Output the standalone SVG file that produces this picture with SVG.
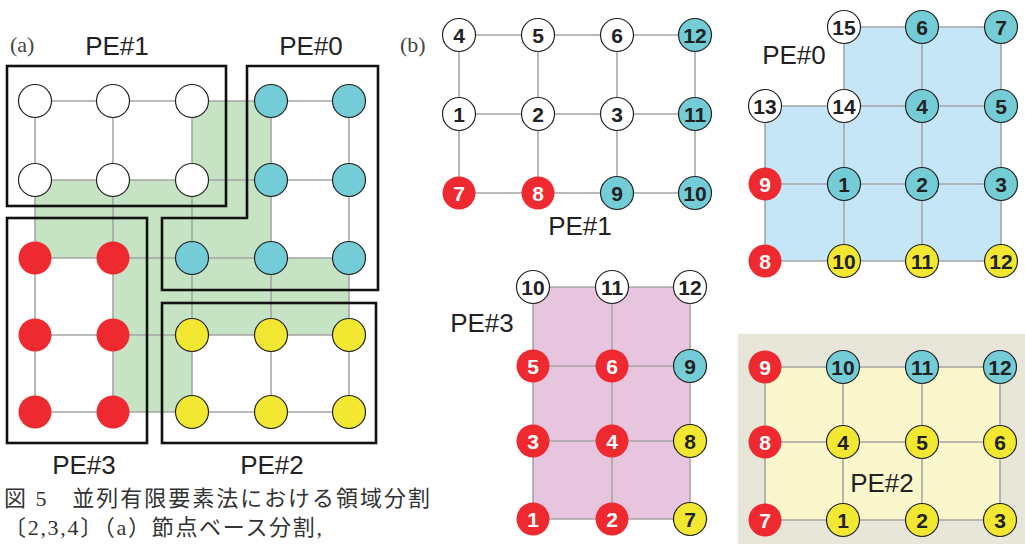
<svg xmlns="http://www.w3.org/2000/svg" width="1025" height="544" viewBox="0 0 1025 544">
<style>
.g line{stroke:#a5a5a5;stroke-width:1.6}
.box{fill:none;stroke:#111;stroke-width:2.6}
.w{fill:#fff;stroke:#222;stroke-width:1.2}
.c{fill:#74ccd7;stroke:#222;stroke-width:1.2}
.y{fill:#f2e832;stroke:#222;stroke-width:1.2}
.r{fill:#ee2a30}
.n{font-family:"Liberation Sans",Arial,sans-serif;font-weight:bold;font-size:21px;text-anchor:middle;fill:#222}
.r + .n{fill:#fff}
.pe{font-family:"Liberation Sans",Arial,sans-serif;font-size:26px;text-anchor:middle;fill:#222}
.lab{font-family:"Liberation Serif","Times New Roman",serif;font-size:22px;fill:#444}
.cap{font-family:"Liberation Serif","Noto Sans CJK JP",serif;font-size:22px;fill:#333}
</style>
<rect width="1025" height="544" fill="#fff"/>
<!-- region fills -->
<g id="fills">
<polygon points="192,101 271,101 271,258 349,258 349,335 192,335 192,412 113,412 113,258 35,258 35,180 192,180" fill="#c6e3c4"/>
<polygon points="844,27 1001,27 1001,261 765,261 765,106 844,106" fill="#c4e6f7"/>
<rect x="533" y="287" width="157" height="232" fill="#e8c5df"/>
<rect x="738" y="334" width="287" height="210" fill="#e8e5d9"/>
<rect x="765" y="367" width="235" height="153" fill="#faf7cc"/>
</g>
<!-- connectors -->
<g id="connectors" class="g">
<!-- (a) grid -->
<line x1="35" y1="101" x2="349" y2="101"/><line x1="35" y1="180" x2="349" y2="180"/><line x1="35" y1="258" x2="349" y2="258"/><line x1="35" y1="335" x2="349" y2="335"/><line x1="35" y1="412" x2="349" y2="412"/>
<line x1="35" y1="101" x2="35" y2="412"/><line x1="113" y1="101" x2="113" y2="412"/><line x1="192" y1="101" x2="192" y2="412"/><line x1="271" y1="101" x2="271" y2="412"/><line x1="349" y1="101" x2="349" y2="412"/>
<!-- (b) PE#1 -->
<line x1="459" y1="35" x2="695" y2="35"/><line x1="459" y1="114" x2="695" y2="114"/><line x1="459" y1="193" x2="695" y2="193"/>
<line x1="459" y1="35" x2="459" y2="193"/><line x1="538" y1="35" x2="538" y2="193"/><line x1="617" y1="35" x2="617" y2="193"/><line x1="695" y1="35" x2="695" y2="193"/>
<!-- (b) PE#0 -->
<line x1="844" y1="27" x2="1001" y2="27"/><line x1="765" y1="106" x2="1001" y2="106"/><line x1="765" y1="184" x2="1001" y2="184"/><line x1="765" y1="261" x2="1001" y2="261"/>
<line x1="765" y1="106" x2="765" y2="261"/><line x1="844" y1="27" x2="844" y2="261"/><line x1="922" y1="27" x2="922" y2="261"/><line x1="1001" y1="27" x2="1001" y2="261"/>
<!-- (b) PE#3 -->
<line x1="533" y1="287" x2="690" y2="287"/><line x1="533" y1="366" x2="690" y2="366"/><line x1="533" y1="441" x2="690" y2="441"/><line x1="533" y1="519" x2="690" y2="519"/>
<line x1="533" y1="287" x2="533" y2="519"/><line x1="612" y1="287" x2="612" y2="519"/><line x1="690" y1="287" x2="690" y2="519"/>
<!-- (b) PE#2 -->
<line x1="765" y1="367" x2="1000" y2="367"/><line x1="765" y1="442" x2="1000" y2="442"/><line x1="765" y1="520" x2="1000" y2="520"/>
<line x1="765" y1="367" x2="765" y2="520"/><line x1="843" y1="367" x2="843" y2="520"/><line x1="922" y1="367" x2="922" y2="520"/><line x1="1000" y1="367" x2="1000" y2="520"/>
</g>
<!-- (a) partition boxes -->
<g id="partitions-a">
<rect class="box" x="7" y="66" width="219" height="140"/>
<polygon class="box" points="247,66 378,66 378,290 162,290 162,218 247,218"/>
<rect class="box" x="7" y="218" width="140" height="225"/>
<rect class="box" x="162" y="303" width="214" height="140"/>
</g>
<!-- labels -->
<g id="labels">
<text class="lab" x="10" y="52">(a)</text>
<text class="lab" x="400" y="52">(b)</text>
<text class="pe" x="117" y="55">PE#1</text>
<text class="pe" x="311" y="55">PE#0</text>
<text class="pe" x="84" y="474">PE#3</text>
<text class="pe" x="272" y="474">PE#2</text>
<text class="pe" x="580" y="235">PE#1</text>
<text class="pe" x="794" y="64">PE#0</text>
<text class="pe" x="482" y="332">PE#3</text>
<text class="pe" x="882" y="492">PE#2</text>
</g>
<!-- (a) nodes -->
<g id="nodes-a">
<g id="a-0-0"><circle class="w" cx="35" cy="101" r="16.5"/></g>
<g id="a-1-0"><circle class="w" cx="113" cy="101" r="16.5"/></g>
<g id="a-2-0"><circle class="w" cx="192" cy="101" r="16.5"/></g>
<g id="a-3-0"><circle class="c" cx="271" cy="101" r="16.5"/></g>
<g id="a-4-0"><circle class="c" cx="349" cy="101" r="16.5"/></g>
<g id="a-0-1"><circle class="w" cx="35" cy="180" r="16.5"/></g>
<g id="a-1-1"><circle class="w" cx="113" cy="180" r="16.5"/></g>
<g id="a-2-1"><circle class="w" cx="192" cy="180" r="16.5"/></g>
<g id="a-3-1"><circle class="c" cx="271" cy="180" r="16.5"/></g>
<g id="a-4-1"><circle class="c" cx="349" cy="180" r="16.5"/></g>
<g id="a-0-2"><circle class="r" cx="35" cy="258" r="16.5"/></g>
<g id="a-1-2"><circle class="r" cx="113" cy="258" r="16.5"/></g>
<g id="a-2-2"><circle class="c" cx="192" cy="258" r="16.5"/></g>
<g id="a-3-2"><circle class="c" cx="271" cy="258" r="16.5"/></g>
<g id="a-4-2"><circle class="c" cx="349" cy="258" r="16.5"/></g>
<g id="a-0-3"><circle class="r" cx="35" cy="335" r="16.5"/></g>
<g id="a-1-3"><circle class="r" cx="113" cy="335" r="16.5"/></g>
<g id="a-2-3"><circle class="y" cx="192" cy="335" r="16.5"/></g>
<g id="a-3-3"><circle class="y" cx="271" cy="335" r="16.5"/></g>
<g id="a-4-3"><circle class="y" cx="349" cy="335" r="16.5"/></g>
<g id="a-0-4"><circle class="r" cx="35" cy="412" r="16.5"/></g>
<g id="a-1-4"><circle class="r" cx="113" cy="412" r="16.5"/></g>
<g id="a-2-4"><circle class="y" cx="192" cy="412" r="16.5"/></g>
<g id="a-3-4"><circle class="y" cx="271" cy="412" r="16.5"/></g>
<g id="a-4-4"><circle class="y" cx="349" cy="412" r="16.5"/></g>
</g>
<!-- (b) PE#1 nodes -->
<g id="nodes-pe1">
<g id="p1-4"><circle class="w" cx="459" cy="35" r="16.5"/><text class="n" x="459" y="42.5">4</text></g>
<g id="p1-5"><circle class="w" cx="538" cy="35" r="16.5"/><text class="n" x="538" y="42.5">5</text></g>
<g id="p1-6"><circle class="w" cx="617" cy="35" r="16.5"/><text class="n" x="617" y="42.5">6</text></g>
<g id="p1-12"><circle class="c" cx="695" cy="35" r="16.5"/><text class="n" x="695" y="42.5">12</text></g>
<g id="p1-1"><circle class="w" cx="459" cy="114" r="16.5"/><text class="n" x="459" y="121.5">1</text></g>
<g id="p1-2"><circle class="w" cx="538" cy="114" r="16.5"/><text class="n" x="538" y="121.5">2</text></g>
<g id="p1-3"><circle class="w" cx="617" cy="114" r="16.5"/><text class="n" x="617" y="121.5">3</text></g>
<g id="p1-11"><circle class="c" cx="695" cy="114" r="16.5"/><text class="n" x="695" y="121.5">11</text></g>
<g id="p1-7"><circle class="r" cx="459" cy="193" r="16.5"/><text class="n" x="459" y="200.5">7</text></g>
<g id="p1-8"><circle class="r" cx="538" cy="193" r="16.5"/><text class="n" x="538" y="200.5">8</text></g>
<g id="p1-9"><circle class="c" cx="617" cy="193" r="16.5"/><text class="n" x="617" y="200.5">9</text></g>
<g id="p1-10"><circle class="c" cx="695" cy="193" r="16.5"/><text class="n" x="695" y="200.5">10</text></g>
</g>
<!-- (b) PE#0 nodes -->
<g id="nodes-pe0">
<g id="p0-15"><circle class="w" cx="844" cy="27" r="16.5"/><text class="n" x="844" y="34.5">15</text></g>
<g id="p0-6"><circle class="c" cx="922" cy="27" r="16.5"/><text class="n" x="922" y="34.5">6</text></g>
<g id="p0-7"><circle class="c" cx="1001" cy="27" r="16.5"/><text class="n" x="1001" y="34.5">7</text></g>
<g id="p0-13"><circle class="w" cx="765" cy="106" r="16.5"/><text class="n" x="765" y="113.5">13</text></g>
<g id="p0-14"><circle class="w" cx="844" cy="106" r="16.5"/><text class="n" x="844" y="113.5">14</text></g>
<g id="p0-4"><circle class="c" cx="922" cy="106" r="16.5"/><text class="n" x="922" y="113.5">4</text></g>
<g id="p0-5"><circle class="c" cx="1001" cy="106" r="16.5"/><text class="n" x="1001" y="113.5">5</text></g>
<g id="p0-9"><circle class="r" cx="765" cy="184" r="16.5"/><text class="n" x="765" y="191.5">9</text></g>
<g id="p0-1"><circle class="c" cx="844" cy="184" r="16.5"/><text class="n" x="844" y="191.5">1</text></g>
<g id="p0-2"><circle class="c" cx="922" cy="184" r="16.5"/><text class="n" x="922" y="191.5">2</text></g>
<g id="p0-3"><circle class="c" cx="1001" cy="184" r="16.5"/><text class="n" x="1001" y="191.5">3</text></g>
<g id="p0-8"><circle class="r" cx="765" cy="261" r="16.5"/><text class="n" x="765" y="268.5">8</text></g>
<g id="p0-10"><circle class="y" cx="844" cy="261" r="16.5"/><text class="n" x="844" y="268.5">10</text></g>
<g id="p0-11"><circle class="y" cx="922" cy="261" r="16.5"/><text class="n" x="922" y="268.5">11</text></g>
<g id="p0-12"><circle class="y" cx="1001" cy="261" r="16.5"/><text class="n" x="1001" y="268.5">12</text></g>
</g>
<!-- (b) PE#3 nodes -->
<g id="nodes-pe3">
<g id="p3-10"><circle class="w" cx="533" cy="287" r="16.5"/><text class="n" x="533" y="294.5">10</text></g>
<g id="p3-11"><circle class="w" cx="612" cy="287" r="16.5"/><text class="n" x="612" y="294.5">11</text></g>
<g id="p3-12"><circle class="w" cx="690" cy="287" r="16.5"/><text class="n" x="690" y="294.5">12</text></g>
<g id="p3-5"><circle class="r" cx="533" cy="366" r="16.5"/><text class="n" x="533" y="373.5">5</text></g>
<g id="p3-6"><circle class="r" cx="612" cy="366" r="16.5"/><text class="n" x="612" y="373.5">6</text></g>
<g id="p3-9"><circle class="c" cx="690" cy="366" r="16.5"/><text class="n" x="690" y="373.5">9</text></g>
<g id="p3-3"><circle class="r" cx="533" cy="441" r="16.5"/><text class="n" x="533" y="448.5">3</text></g>
<g id="p3-4"><circle class="r" cx="612" cy="441" r="16.5"/><text class="n" x="612" y="448.5">4</text></g>
<g id="p3-8"><circle class="y" cx="690" cy="441" r="16.5"/><text class="n" x="690" y="448.5">8</text></g>
<g id="p3-1"><circle class="r" cx="533" cy="519" r="16.5"/><text class="n" x="533" y="526.5">1</text></g>
<g id="p3-2"><circle class="r" cx="612" cy="519" r="16.5"/><text class="n" x="612" y="526.5">2</text></g>
<g id="p3-7"><circle class="y" cx="690" cy="519" r="16.5"/><text class="n" x="690" y="526.5">7</text></g>
</g>
<!-- (b) PE#2 nodes -->
<g id="nodes-pe2">
<g id="p2-9"><circle class="r" cx="765" cy="367" r="16.5"/><text class="n" x="765" y="374.5">9</text></g>
<g id="p2-10"><circle class="c" cx="843" cy="367" r="16.5"/><text class="n" x="843" y="374.5">10</text></g>
<g id="p2-11"><circle class="c" cx="922" cy="367" r="16.5"/><text class="n" x="922" y="374.5">11</text></g>
<g id="p2-12"><circle class="c" cx="1000" cy="367" r="16.5"/><text class="n" x="1000" y="374.5">12</text></g>
<g id="p2-8"><circle class="r" cx="765" cy="442" r="16.5"/><text class="n" x="765" y="449.5">8</text></g>
<g id="p2-4"><circle class="y" cx="843" cy="442" r="16.5"/><text class="n" x="843" y="449.5">4</text></g>
<g id="p2-5"><circle class="y" cx="922" cy="442" r="16.5"/><text class="n" x="922" y="449.5">5</text></g>
<g id="p2-6"><circle class="y" cx="1000" cy="442" r="16.5"/><text class="n" x="1000" y="449.5">6</text></g>
<g id="p2-7"><circle class="r" cx="765" cy="520" r="16.5"/><text class="n" x="765" y="527.5">7</text></g>
<g id="p2-1"><circle class="y" cx="843" cy="520" r="16.5"/><text class="n" x="843" y="527.5">1</text></g>
<g id="p2-2"><circle class="y" cx="922" cy="520" r="16.5"/><text class="n" x="922" y="527.5">2</text></g>
<g id="p2-3"><circle class="y" cx="1000" cy="520" r="16.5"/><text class="n" x="1000" y="527.5">3</text></g>
</g>
<!-- caption -->
<g id="caption">
<text class="cap" x="4" y="506" textLength="426" lengthAdjust="spacing">図 5　並列有限要素法における領域分割</text>
<text class="cap" x="4" y="535" textLength="318" lengthAdjust="spacing">〔2,3,4〕（a）節点ベース分割,</text>
</g>
</svg>
